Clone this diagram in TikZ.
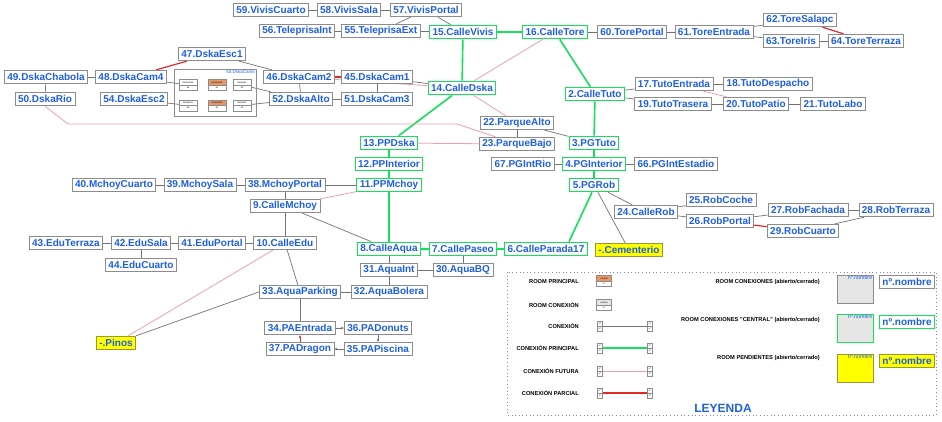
\documentclass[tikz,border=0pt]{standalone}
\usepackage{fontspec}
\setmainfont{Liberation Sans}
\usetikzlibrary{arrows.meta,shapes.multipart,backgrounds}

\definecolor{roomblue}{RGB}{30,95,225}
\definecolor{roomgray}{RGB}{140,140,140}
\definecolor{lingray}{RGB}{115,115,115}
\definecolor{maingreen}{RGB}{20,225,90}
\definecolor{futpink}{RGB}{240,160,172}
\definecolor{parcred}{RGB}{228,40,40}
\definecolor{pendyellow}{RGB}{255,255,0}
\definecolor{pendborder}{RGB}{150,150,60}
\definecolor{roomorange}{RGB}{232,150,100}
\definecolor{legdots}{RGB}{130,130,225}
\definecolor{boxgray}{RGB}{230,230,230}

\newcommand{\roomfont}{\bfseries\fontsize{10}{11}\selectfont}
\newcommand{\legfont}{\bfseries\fontsize{5.7}{6.5}\selectfont}
\newcommand{\minifont}{\fontsize{2.2}{2.6}\selectfont}

\tikzset{
	room/.style={draw=roomgray, fill=white, line width=0.8pt, font=\roomfont, text=roomblue, inner xsep=3pt, inner ysep=0pt, minimum height=13.5pt},
	central/.style={room, draw=maingreen, line width=1.2pt},
	pending/.style={room, draw=pendborder, fill=pendyellow},
	miniroom/.style={rectangle split, rectangle split parts=2, draw=roomgray, line width=0.5pt, font=\minifont, inner xsep=0.5pt, inner ysep=1.6pt, minimum width=18pt, rectangle split part fill={white,white}},
	minipin/.style={miniroom, minimum width=5pt, inner ysep=1.4pt},
	legtext/.style={font=\legfont, inner sep=0pt},
	bigbox/.style={line width=0.8pt, minimum width=36pt, minimum height=28pt, inner sep=0pt},
	conx/.style={draw=lingray, line width=0.7pt},
	mainconx/.style={draw=maingreen, line width=1.6pt},
	futconx/.style={draw=futpink, line width=0.8pt},
	partconx/.style={draw=parcred, line width=1.2pt},
	oneway/.style={conx, -{Stealth[length=3pt,width=2.5pt]}}
}

\begin{document}
\begin{tikzpicture}[x=1pt, y=-1pt]
	\useasboundingbox (0,0) rectangle (942,421);

	\node[room] (r59) at (271,10) {59.VivisCuarto};
	\node[room] (r58) at (349,10) {58.VivisSala};
	\node[room] (r57) at (426,10) {57.VivisPortal};
	\node[room] (r56) at (297,31) {56.TeleprisaInt};
	\node[room] (r55) at (381,31) {55.TeleprisaExt};
	\node[central] (r15) at (463,32) {15.CalleVivis};
	\node[central] (r16) at (555,32) {16.CalleTore};
	\node[room] (r60) at (632,32) {60.TorePortal};
	\node[room] (r61) at (714,32) {61.ToreEntrada};
	\node[room] (r62) at (800,20) {62.ToreSalapc};
	\node[room] (r63) at (791,41) {63.ToreIris};
	\node[room] (r64) at (866,41) {64.ToreTerraza};

	\node[room] (r47) at (212,54) {47.DskaEsc1};
	\node[room] (r49) at (46,77) {49.DskaChabola};
	\node[room] (r48) at (131,77) {48.DskaCam4};
	\node[room] (r46) at (299,77) {46.DskaCam2};
	\node[room] (r45) at (377,77) {45.DskaCam1};
	\node[central] (r14) at (462,88) {14.CalleDska};
	\node[room] (r50) at (45,99) {50.DskaRio};
	\node[room] (r54) at (134,99) {54.DskaEsc2};
	\node[room] (r52) at (301,99) {52.DskaAlto};
	\node[room] (r51) at (377,99) {51.DskaCam3};

	\node[draw=roomgray, line width=0.6pt, minimum width=82pt, minimum height=47pt] (d53) at (215,92.5) {};
	\node[font=\fontsize{4.5}{5}\selectfont, text=roomblue, anchor=north east, inner sep=1.2pt] (d53t) at (d53.north east) {53.DskaCam5};
	\node[miniroom] (m1) at (188,85) {DskaCam4\nodepart{two}48};
	\node[miniroom, rectangle split part fill={roomorange,white}] (m2) at (217,85) {DskaCam5\nodepart{two}53};
	\node[miniroom] (m3) at (242,85) {DskaAlto\nodepart{two}52};
	\node[miniroom] (m4) at (188,105.5) {DskaEsc2\nodepart{two}54};
	\node[miniroom, rectangle split part fill={roomorange,white}] (m5) at (217,105.5) {DskaCam5\nodepart{two}53};
	\node[miniroom] (m6) at (242,105.5) {DskaAlto\nodepart{two}52};

	\node[central] (r2) at (595,94) {2.CalleTuto};
	\node[room] (r17) at (674,84) {17.TutoEntrada};
	\node[room] (r18) at (768,84) {18.TutoDespacho};
	\node[room] (r19) at (673,104) {19.TutoTrasera};
	\node[room] (r20) at (756,104) {20.TutoPatio};
	\node[room] (r21) at (833,104) {21.TutoLabo};

	\node[room] (r22) at (517,123) {22.ParqueAlto};
	\node[room] (r23) at (517,144) {23.ParqueBajo};
	\node[central] (r13) at (389,143) {13.PPDska};
	\node[central] (r3) at (594,143) {3.PGTuto};
	\node[central] (r12) at (389,164) {12.PPInterior};
	\node[room] (r67) at (523,164) {67.PGIntRio};
	\node[central] (r4) at (594,164) {4.PGInterior};
	\node[room] (r66) at (676,164) {66.PGIntEstadio};

	\node[room] (r40) at (114,185) {40.MchoyCuarto};
	\node[room] (r39) at (200,185) {39.MchoySala};
	\node[room] (r38) at (285,185) {38.MchoyPortal};
	\node[central] (r11) at (389,185) {11.PPMchoy};
	\node[central] (r5) at (594,185) {5.PGRob};
	\node[room] (r9) at (285,206) {9.CalleMchoy};

	\node[room] (r24) at (646,212) {24.CalleRob};
	\node[room] (r25) at (721,200) {25.RobCoche};
	\node[room] (r26) at (720,221) {26.RobPortal};
	\node[room] (r27) at (808,210) {27.RobFachada};
	\node[room] (r28) at (896,210) {28.RobTerraza};
	\node[room] (r29) at (803,231) {29.RobCuarto};
	\node[pending] (rcem) at (629,250) {-.Cementerio};

	\node[room] (r43) at (66,243) {43.EduTerraza};
	\node[room] (r42) at (141,243) {42.EduSala};
	\node[room] (r41) at (212,243) {41.EduPortal};
	\node[room] (r10) at (285,243) {10.CalleEdu};
	\node[room] (r44) at (141,265) {44.EduCuarto};
	\node[central] (r8) at (389,249) {8.CalleAqua};
	\node[central] (r7) at (463,249) {7.CallePaseo};
	\node[central] (r6) at (546,249) {6.CalleParada17};
	\node[room] (r31) at (389,270) {31.AquaInt};
	\node[room] (r30) at (463,270) {30.AquaBQ};
	\node[room] (r33) at (300,292) {33.AquaParking};
	\node[room] (r32) at (389,292) {32.AquaBolera};
	\node[room] (r34) at (300,328) {34.PAEntrada};
	\node[room] (r36) at (378,328) {36.PADonuts};
	\node[room] (r37) at (300,349) {37.PADragon};
	\node[room] (r35) at (378,349) {35.PAPiscina};
	\node[pending] (rpinos) at (116,343) {-.Pinos};

	\coordinate (rio1) at (68,124);
	\coordinate (rio2) at (457,124);

	\begin{scope}[on background layer]
	\path[conx]
	(r59) edge (r58) (r58) edge (r57) (r57) edge (r55) (r57) edge (r15)
	(r56) edge (r55) (r55) edge (r15) (r16) edge (r60) (r60) edge (r61)
	(r61) edge (r62) (r61) edge (r63) (r63) edge (r64)
	(r49) edge (r48) (r49) edge (r50) (r47) edge (r46) (r46) edge (r52)
	(r45) edge (r51) (r52) edge (r51) (r45) edge (r14)
	(r48) edge (m1) (m3) edge (r52) (r54) edge (m4) (m6) edge (r52)
	(r22) edge (r23) (r22) edge (r3) (r4) edge (r67) (r4) edge (r66)
	(r2) edge (r17) (r2) edge (r19) (r17) edge (r18) (r19) edge (r20) (r20) edge (r21)
	(r40) edge (r39) (r39) edge (r38) (r38) edge (r11) (r38) edge (r9)
	(r9) edge (r10) (r9) edge (r8) (r10) edge (r41) (r41) edge (r42)
	(r42) edge (r43) (r42) edge (r44) (r10) edge (r33) (r33.west) edge (rpinos)
	(r33) edge (r32) (r8) edge (r31) (r31) edge (r32) (r31) edge (r30) (r7) edge (r30)
	(r33) edge (r34) (r5) edge (r24) (r5) edge (rcem)
	(r24) edge (r25) (r24) edge (r26) (r26) edge (r27) (r27) edge (r28) (r29) edge (r28)
	;
	\path[mainconx]
	(r15) edge (r16) (r15) edge (r14) (r16) edge (r2) (r14) edge (r13)
	(r13) edge (r12) (r12) edge (r11) (r11) edge (r8) (r8) edge (r7) (r7) edge (r6)
	([xshift=23pt]r6.north) edge ([xshift=-2pt]r5.south)
	(r2) edge (r3) (r3) edge (r4) (r4) edge (r5)
	;
	\path[futconx]
	(r16) edge (r14) (r14) edge (r22) (r46) edge (r14) (r13) edge (r23)
	(r9) edge (r11) (r10) edge (rpinos) (r17) edge (r20)
	;
	\draw[futconx] (r50.south) -- (rio1) -- (rio2) -- (r23);
	\path[partconx]
	(r62) edge (r64) (r47) edge (r48) (r46) edge (r45) (r26) edge (r29)
	;
	\end{scope}
	\path[oneway]
	(r34) edge (r36) (r36) edge (r35) (r35) edge (r37)
	(r37) edge[draw=parcred] (r34)
	;

	\draw[legdots, line width=1pt, dash pattern=on 1pt off 2.6pt] (507,272) rectangle (936,415);
	\node[legtext, anchor=east] (lgprinc) at (579,282) {ROOM PRINCIPAL};
	\node[miniroom, minimum width=15pt, rectangle split part fill={roomorange,white}] (icprinc) at (604,281) {nombre\nodepart{two}nº};
	\node[legtext, anchor=east] (lgconx) at (579,305) {ROOM CONEXIÓN};
	\node[miniroom, minimum width=15pt, rectangle split part fill={boxgray,white}] (icconx) at (604,305) {nombre\nodepart{two}nº};
	\foreach \ty/\tname/\tsty [count=\i] in {326/CONEXIÓN/conx, 348/CONEXIÓN PRINCIPAL/mainconx, 371/CONEXIÓN FUTURA/futconx, 393/CONEXIÓN PARCIAL/partconx} {
		\node[legtext, anchor=east] (lgline\i) at (579,\ty) {\tname};
		\node[minipin] (pa\i) at (600,\ty) {nº\nodepart{two}nº};
		\node[minipin] (pb\i) at (650,\ty) {nº\nodepart{two}nº};
		\draw[\tsty] (pa\i) -- (pb\i);
	}

	\node[legtext, anchor=east] (lgroom) at (820,282) {ROOM CONEXIONES (abierto/cerrado)};
	\node[legtext, anchor=east] (lgcentral) at (820,320) {ROOM CONEXIONES "CENTRAL" (abierto/cerrado)};
	\node[legtext, anchor=east] (lgpend) at (820,358) {ROOM PENDIENTES (abierto/cerrado)};
	\node[bigbox, draw=roomgray, fill=boxgray] (bgroom) at (855,289) {};
	\node[bigbox, draw=maingreen, fill=boxgray] (bgcentral) at (855,328) {};
	\node[bigbox, draw=pendborder, fill=pendyellow] (bgpend) at (855,368) {};
	\foreach \tb in {bgroom, bgcentral, bgpend}
		\node[font=\fontsize{5.3}{6}\selectfont, text=roomblue, anchor=north east, inner sep=1pt] at (\tb.north east) {nº.nombre};
	\node[room] (nmroom) at (907,282) {nº.nombre};
	\node[central] (nmcentral) at (907,322) {nº.nombre};
	\node[pending] (nmpend) at (907,361) {nº.nombre};
	\node[font=\bfseries\fontsize{12}{14}\selectfont, text=roomblue] (leyenda) at (723,408) {LEYENDA};
\end{tikzpicture}
\end{document}
